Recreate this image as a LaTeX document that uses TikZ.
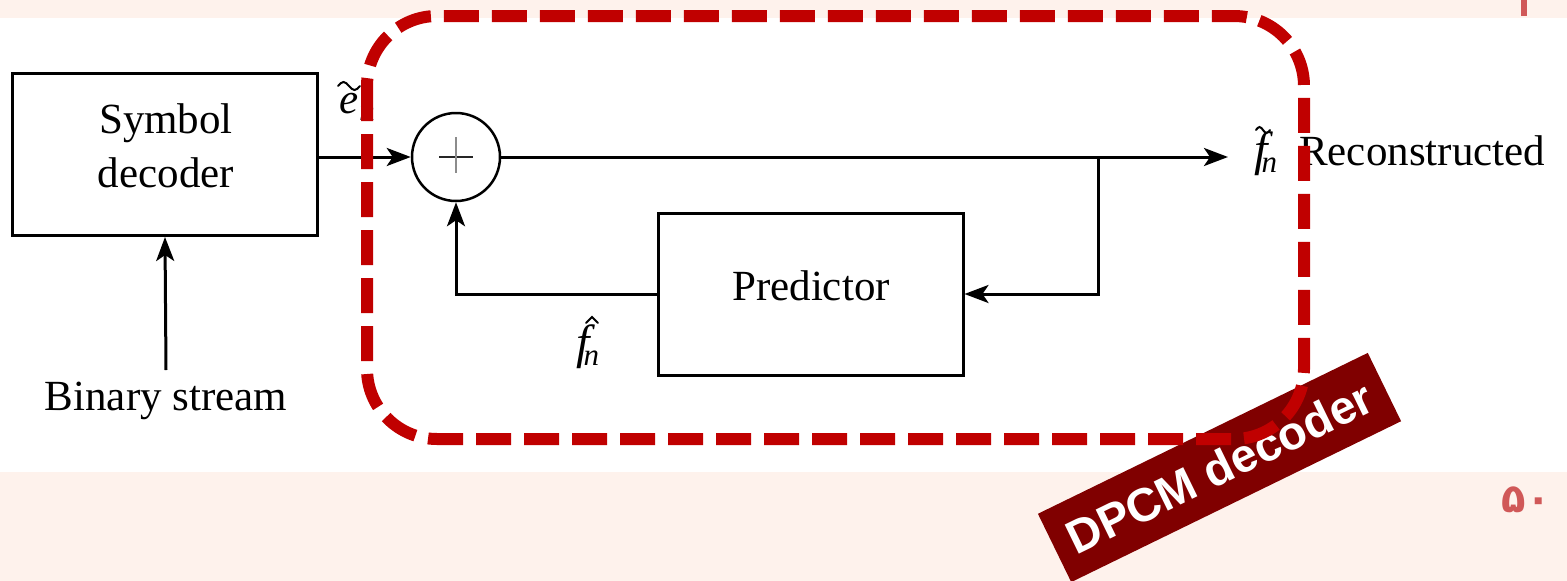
\documentclass[tikz,border=0pt]{standalone}
\usepackage{fontspec}
\setmainfont{Liberation Serif}
\newfontfamily\lsans{Liberation Sans}
\newfontfamily\arabicfont[Script=Arabic]{DejaVu Sans}
\usetikzlibrary{arrows.meta}
\definecolor{pinkbg}{HTML}{FEF2EC}
\definecolor{dashred}{HTML}{C00000}
\definecolor{darkred}{HTML}{800000}
\definecolor{numred}{HTML}{D05858}
\newcommand{\subn}{\raisebox{-7pt}{\fontsize{31}{31}\selectfont\itshape n}}
\newcommand{\bigf}{{\fontsize{48}{54}\selectfont\itshape f}}
\tikzset{
  blk/.style={draw, line width=3pt, rectangle, inner sep=0pt},
  arr/.style={line width=3pt, arrows={-Stealth[length=24pt, width=18pt, inset=6pt]}},
  lbl/.style={font=\fontsize{43}{54}\selectfont, inner sep=0pt},
  accent/.style={line width=2pt, line cap=round},
  dpcmbox/.style={dashred, line width=12pt, dash pattern=on 35pt off 13pt, rounded corners=70pt}
}
\begin{document}
\begin{tikzpicture}[x=1pt,y=-1pt]
\useasboundingbox (0,0) rectangle (1567,581);
% backgrounds
\fill[pinkbg] (0,0) rectangle (1567,18);
\fill[pinkbg] (0,472) rectangle (1567,581);
\fill[numred] (1521,0) rectangle (1527,16);
\node[text=numred, font=\arabicfont\bfseries\fontsize{40}{44}\selectfont, inner sep=0pt] (pg) at (1526,500) {۵۰};

% blocks
\node[blk, minimum width=305pt, minimum height=162pt] (sd) at (165,154.5) {};
\node[lbl, anchor=base] (sdt1) at (166,133) {Symbol};
\node[lbl, anchor=base] (sdt2) at (166,187) {decoder};
\node[blk, minimum width=305pt, minimum height=162pt] (pred) at (810.5,294) {};
\node[lbl, anchor=base] (predt) at (811,300) {Predictor};
\node[draw, circle, line width=2.5pt, minimum size=88pt, inner sep=0pt] (sum) at (456,157) {};
\draw[line width=2.5pt, black!85] (439,157) -- (473,157);
\draw[line width=2.5pt, black!45] (456,137) -- (456,173);

% labels
\node[lbl, anchor=base] (bs) at (166,410) {Binary stream};
\coordinate (bsTop) at (166,370);
\node[lbl, anchor=base west] (rec) at (1299,165) {Reconstructed};
\node[lbl, anchor=base west] (ft) at (1254,165) {\bigf\kern-6pt\subn};
\draw[accent] (1256,130) sin (1259.5,127) cos (1263,130) sin (1266.5,133) cos (1270,130);
\node[lbl, anchor=base west] (fh) at (576,358) {\bigf\kern-6pt\subn};
\draw[accent] (586,323) -- (592,317) -- (598,323);
\node[lbl, anchor=base west] (et) at (339,113) {\itshape e\kern1pt\subn};
\draw[accent] (338,86) sin (343.5,82) cos (349,86) sin (354.5,90) cos (360,86);
\coordinate (outEnd) at (1228,157);
\coordinate (br) at (1098,157);

% connectors
\draw[arr] (bsTop) -- (sd.south);
\draw[arr] (sd.east |- sum.west) -- (sum.west);
\draw[arr] (sum.east) -- (outEnd);
\draw[arr] (br) |- (pred.east);
\draw[arr] (pred.west) -| (sum.south);

% DPCM label and dashed frame
\node[fill=darkred, rotate=26, minimum width=367pt, minimum height=76pt, inner sep=0pt,
      text=white, font=\lsans\bfseries\fontsize{47}{50}\selectfont] (dl) at (1219.5,467.5) {DPCM decoder};
\draw[dpcmbox] (367,16) rectangle (1304,439);
\end{tikzpicture}
\end{document}
